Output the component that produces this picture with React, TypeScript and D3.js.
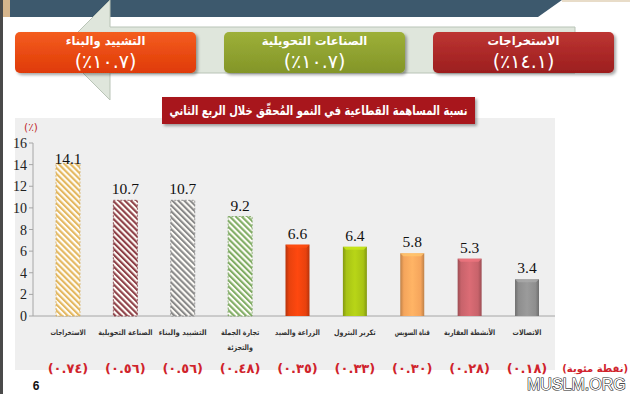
import React from 'react';
import * as d3 from 'd3';

const categories = [
  'الاستخراجات',
  'الصناعة التحويلية',
  'التشييد والبناء',
  'تجارة الجملة\nوالتجزئة',
  'الزراعة والصيد',
  'تكرير البترول',
  'قناة السويس',
  'الأنشطة العقارية',
  'الاتصالات',
];
const values = [14.1, 10.7, 10.7, 9.2, 6.6, 6.4, 5.8, 5.3, 3.4];
const contributions = ['(٠.٧٤)', '(٠.٥٦)', '(٠.٥٦)', '(٠.٤٨)', '(٠.٣٥)', '(٠.٣٣)', '(٠.٣٠)', '(٠.٢٨)', '(٠.١٨)'];
const hatched = [true, true, true, true, false, false, false, false, false];
const barColors = ['#e4b860', '#8e3f47', '#8a8a8a', '#80ad64', '#e8420e', '#a8c315', '#f5a55c', '#c8636b', '#8e8e8e'];
const yTicks = [0, 2, 4, 6, 8, 10, 12, 14, 16];

const headlineLabels = ['التشييد والبناء', 'الصناعات التحويلية', 'الاستخراجات'];
const headlineValues = ['(٪١٠.٧)', '(٪١٠.٧)', '(٪١٤.١)'];
const headlineColors = [
  ['#f45d20', '#df3a06'],
  ['#9db038', '#839528'],
  ['#bd3533', '#9c1e1e'],
];

const title = 'نسبة المساهمة القطاعية في النمو المُحقّق خلال الربع الثاني';
const unitLabel = '(٪)';
const pointsLabel = '(نقطة مئوية)';

const AR = '"DejaVu Sans", sans-serif';
const SERIF = '"Liberation Serif", "Times New Roman", serif';

export default function App() {
  const x = d3
    .scaleBand<string>()
    .domain(categories)
    .range([39.3, 555.7])
    .paddingInner(0.582)
    .paddingOuter(0.291);
  const y = d3.scaleLinear().domain([0, 16]).range([316, 143]);
  const hx = d3.scaleBand<number>().domain([0, 1, 2]).range([15, 614]).paddingInner(0.134).paddingOuter(0);
  const plotTop = 153;

  const shade = (c: string, k: number) => {
    const col = d3.color(c)!;
    return (k > 0 ? col.brighter(k) : col.darker(-k)).formatHex();
  };

  return (
    <svg width={630} height={394} style={{ position: 'absolute', left: 0, top: 0, background: '#fff' }}>
      <defs>
        {barColors.map((c, i) =>
          hatched[i] ? (
            <pattern
              key={'p' + i}
              id={'hatch' + i}
              patternUnits="userSpaceOnUse"
              width={4.2}
              height={4.2}
              patternTransform="rotate(-45)"
            >
              <rect width={4.2} height={4.2} fill="#fffdf8" />
              <rect width={2.1} height={4.2} fill={c} />
            </pattern>
          ) : (
            <linearGradient key={'g' + i} id={'grad' + i} x1="0" x2="1" y1="0" y2="0">
              <stop offset="0" stopColor={shade(c, -0.7)} />
              <stop offset="0.15" stopColor={c} />
              <stop offset="0.5" stopColor={shade(c, 0.25)} />
              <stop offset="0.85" stopColor={c} />
              <stop offset="1" stopColor={shade(c, -0.7)} />
            </linearGradient>
          )
        )}
        {headlineColors.map((c, i) => (
          <linearGradient key={'h' + i} id={'head' + i} x1="0" x2="0" y1="0" y2="1">
            <stop offset="0" stopColor={c[0]} />
            <stop offset="1" stopColor={c[1]} />
          </linearGradient>
        ))}
        <filter id="shadow" x="-10%" y="-20%" width="130%" height="160%">
          <feDropShadow dx="2" dy="2" stdDeviation="1.5" floodColor="#000" floodOpacity="0.35" />
        </filter>
      </defs>

      {/* left frame strip */}
      <rect x={0} y={0} width={3} height={394} fill="#4a4a4a" />
      <rect x={3} y={0} width={7} height={17} fill="#d6b58c" />
      {/* top banner */}
      <polygon points="10,0 562,0 538,17 10,17" fill="#3d596d" />
      <rect x={562} y={0} width={68} height={2} fill="#e8dcc8" />

      {/* arrow */}
      <polygon
        points="575,27 110,27 110,0 60,50 110,100 110,73 575,73"
        fill="#dfe6dc"
        stroke="#b9c4b7"
        strokeWidth={1}
      />

      {/* headline boxes */}
      {headlineLabels.map((lab, i) => {
        const bx = hx(i)!;
        const bw = hx.bandwidth();
        const cx = bx + bw / 2;
        return (
          <g key={'hb' + i}>
            <rect x={bx} y={32} width={bw} height={41} rx={5} fill={`url(#head${i})`} filter="url(#shadow)" />
            <text x={cx} y={45} textAnchor="middle" fill="#fff" fontFamily={AR} fontWeight="bold" fontSize={11.5}>
              {lab}
            </text>
            <text
              x={cx}
              y={68}
              textAnchor="middle"
              fill="#fff"
              fontFamily={AR}
              fontSize={19}
              letterSpacing={1}
              style={{ direction: 'ltr', unicodeBidi: 'bidi-override' }}
            >
              {headlineValues[i]}
            </text>
          </g>
        );
      })}

      {/* plot panel */}
      <rect x={15} y={118} width={540} height={252} fill="#efefef" />

      {/* title box */}
      <rect x={162} y={97} width={313} height={27} fill="#a8161b" filter="url(#shadow)" />
      <text
        x={318.5}
        y={115}
        textAnchor="middle"
        fill="#fff"
        fontFamily={AR}
        fontWeight="bold"
        fontSize={13}
        textLength={298}
        lengthAdjust="spacingAndGlyphs"
      >
        {title}
      </text>

      {/* y axis */}
      <text x={31} y={131} textAnchor="middle" fill="#c0282c" fontFamily={AR} fontSize={10.5}>
        {unitLabel}
      </text>
      <line x1={33} x2={33} y1={y(16)} y2={y(0)} stroke="#a6a6a6" />
      {yTicks.map((t) => (
        <g key={'t' + t}>
          <line x1={29} x2={33} y1={y(t)} y2={y(t)} stroke="#a6a6a6" />
          <text x={27} y={y(t) + 5} textAnchor="end" fontFamily={SERIF} fontSize={14} fill="#222">
            {t}
          </text>
        </g>
      ))}
      <line x1={33} x2={555} y1={y(0)} y2={y(0)} stroke="#a6a6a6" />

      {/* bars */}
      {categories.map((c, i) => {
        const bx = x(c)!;
        const bw = x.bandwidth();
        const top = y(values[i]);
        const h = y(0) - top;
        const col = barColors[i];
        return (
          <g key={'b' + i}>
            {hatched[i] ? (
              <rect
                x={bx}
                y={top}
                width={bw}
                height={h}
                fill={`url(#hatch${i})`}
                stroke={shade(col, -0.2)}
                strokeWidth={0.8}
                strokeDasharray="2,1.5"
              />
            ) : (
              <g>
                <rect x={bx} y={top} width={bw} height={h} fill={`url(#grad${i})`} />
                <polygon
                  points={`${bx},${top} ${bx + bw},${top} ${bx + bw - 3},${top + 3} ${bx + 3},${top + 3}`}
                  fill={shade(col, 0.5)}
                  opacity={0.8}
                />
              </g>
            )}
            <text
              x={bx + bw / 2}
              y={Math.max(top - 6, plotTop + 11)}
              textAnchor="middle"
              fontFamily={SERIF}
              fontSize={15.5}
              fill="#111"
            >
              {values[i].toFixed(1)}
            </text>
            {c.split('\n').map((line, j) => (
              <text
                key={j}
                x={bx + bw / 2}
                y={335 + j * 15}
                textAnchor="middle"
                fontFamily={AR}
                fontWeight="bold"
                fontSize={7.5}
                textLength={line.length * 3.2}
                lengthAdjust="spacingAndGlyphs"
                fill="#333"
              >
                {line}
              </text>
            ))}
            <text
              x={bx + bw / 2}
              y={373}
              textAnchor="middle"
              fontFamily={AR}
              fontWeight="bold"
              fontSize={13}
              letterSpacing={1.5}
              fill="#d0232b"
              style={{ direction: 'ltr', unicodeBidi: 'bidi-override' }}
            >
              {contributions[i]}
            </text>
          </g>
        );
      })}

      <text x={628} y={372} textAnchor="end" fontFamily={AR} fontWeight="bold" fontSize={10} fill="#d0232b">
        {pointsLabel}
      </text>

      {/* page number */}
      <text x={36} y={390} textAnchor="middle" fontFamily='"Liberation Sans", Arial, sans-serif' fontWeight="bold" fontSize={12} fill="#111">
        6
      </text>

      {/* watermark */}
      <text
        x={527}
        y={390}
        fontFamily='"Liberation Sans", Arial, sans-serif'
        fontSize={16}
        fill="#fff"
        stroke="#222"
        strokeWidth={1.2}
        paintOrder="stroke"
      >
        MUSLM.ORG
      </text>
    </svg>
  );
}
